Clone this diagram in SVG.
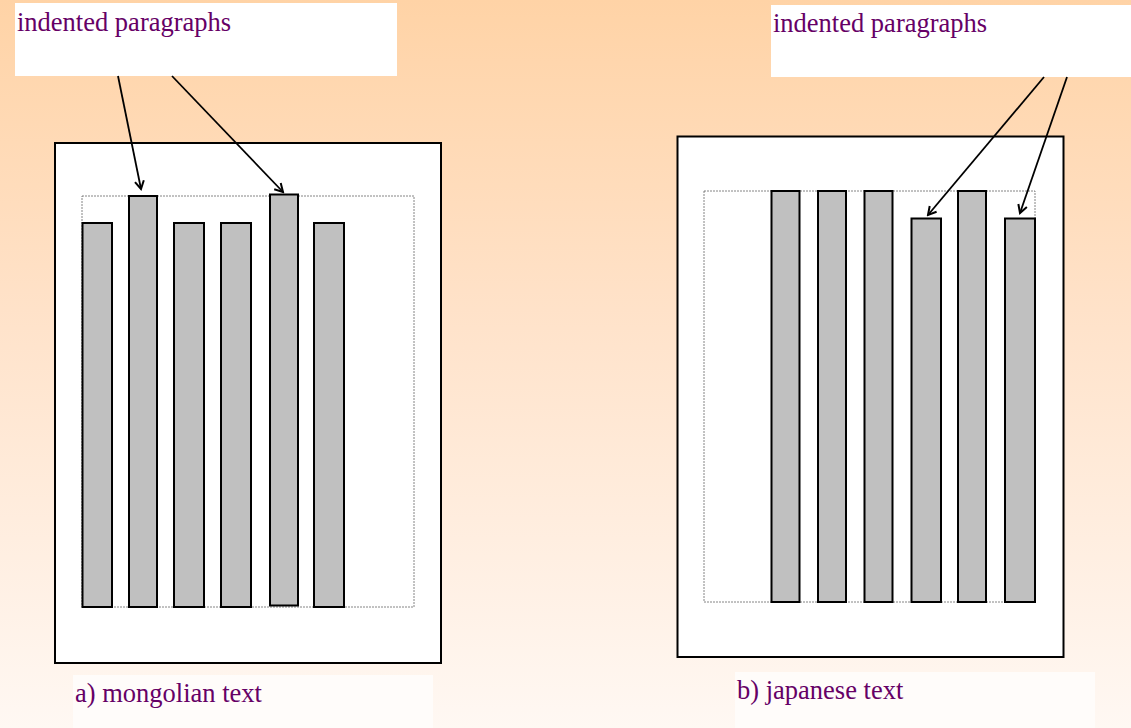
<svg xmlns="http://www.w3.org/2000/svg" width="1131" height="728" viewBox="0 0 1131 728">
<defs>
<linearGradient id="bg" x1="0" y1="0" x2="0" y2="1">
<stop offset="0" stop-color="#FFD3A6"/>
<stop offset="0.45" stop-color="#FFE3CB"/>
<stop offset="1" stop-color="#FFF8F3"/>
</linearGradient>
<marker id="arr" viewBox="0 0 12 12" refX="10" refY="6" markerWidth="12" markerHeight="12" markerUnits="userSpaceOnUse" orient="auto">
<path d="M2,1.5 L10,6 L2,10.5" fill="none" stroke="#000" stroke-width="2"/>
</marker>
<style>
.lbl{fill:#fff;stroke:none}
.lbl2{fill:#FFFCFA;stroke:none}
.txt{font-family:"Liberation Serif","Times New Roman",serif;font-size:26.5px;fill:#660066}
.page{fill:#fff;stroke:#000;stroke-width:2}
.area{fill:none;stroke:#666;stroke-width:0.8;stroke-dasharray:2 1}
.bar{fill:#C0C0C0;stroke:#000;stroke-width:2}
.conn{fill:none;stroke:#000;stroke-width:1.8;marker-end:url(#arr)}
</style>
</defs>
<rect x="0" y="0" width="1131" height="728" fill="url(#bg)"/>
<g id="label-left-top">
<rect class="lbl" x="15" y="3" width="382" height="73"/>
<text class="txt" x="17" y="31">indented paragraphs</text>
</g>
<g id="label-right-top">
<rect class="lbl" x="771" y="5" width="360" height="72"/>
<text class="txt" x="773" y="32">indented paragraphs</text>
</g>
<g id="page-mongolian">
<rect class="page" x="55" y="143" width="386" height="520"/>
<rect class="area" x="82" y="196" width="332" height="411"/>
<rect class="bar" x="82.5" y="223" width="29.5" height="384"/>
<rect class="bar" x="129" y="196" width="28" height="411"/>
<rect class="bar" x="174" y="223" width="30" height="384"/>
<rect class="bar" x="221" y="223" width="30" height="384"/>
<rect class="bar" x="270" y="194.5" width="28" height="411"/>
<rect class="bar" x="314" y="223" width="30" height="384"/>
</g>
<g id="page-japanese">
<rect class="page" x="677.5" y="136.5" width="386" height="520.5"/>
<rect class="area" x="704" y="191" width="331" height="411"/>
<rect class="bar" x="771.5" y="191" width="28" height="411"/>
<rect class="bar" x="818" y="191" width="28" height="411"/>
<rect class="bar" x="864.5" y="191" width="28" height="411"/>
<rect class="bar" x="911.5" y="218.5" width="29.5" height="383.5"/>
<rect class="bar" x="958" y="191" width="28" height="411"/>
<rect class="bar" x="1005" y="218.5" width="30" height="383.5"/>
</g>
<g id="caption-a">
<rect class="lbl2" x="73" y="675" width="360" height="53"/>
<text class="txt" x="75" y="702">a) mongolian text</text>
</g>
<g id="caption-b">
<rect class="lbl2" x="735" y="672" width="360" height="56"/>
<text class="txt" x="737" y="699">b) japanese text</text>
</g>
<g id="connectors">
<line class="conn" x1="118" y1="76" x2="141" y2="189"/>
<line class="conn" x1="172" y1="76" x2="283" y2="192"/>
<line class="conn" x1="1044" y1="77" x2="928" y2="215"/>
<line class="conn" x1="1067" y1="77" x2="1020" y2="213"/>
</g>
</svg>
